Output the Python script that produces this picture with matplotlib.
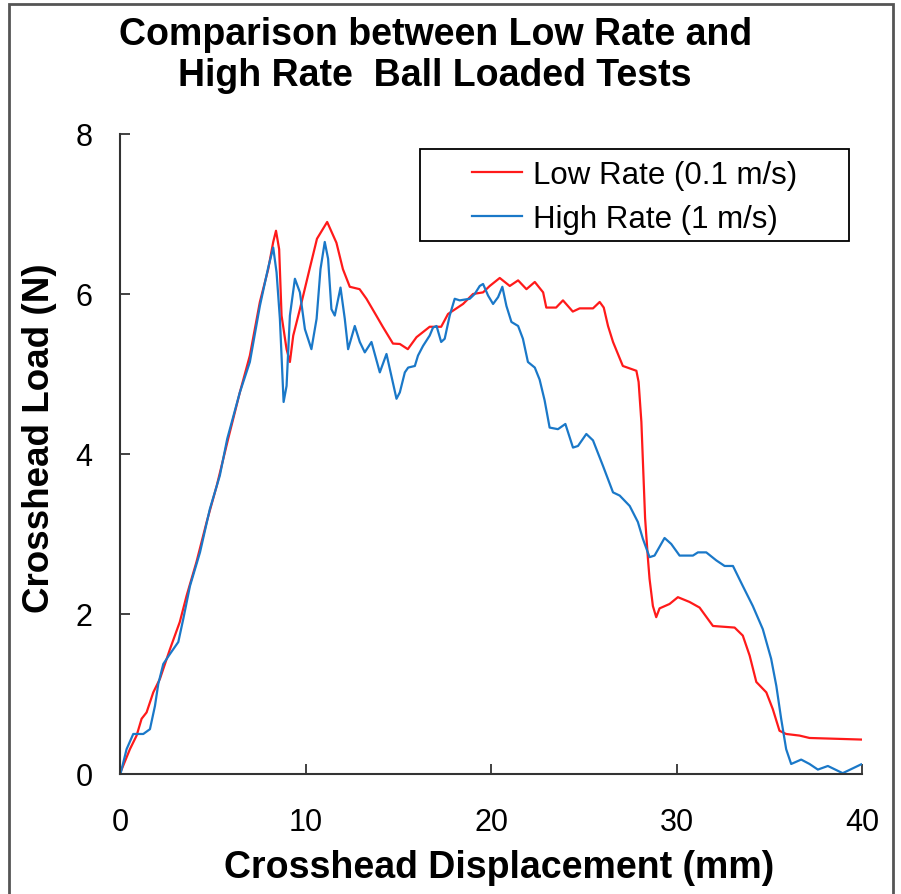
import matplotlib.pyplot as plt
from matplotlib.patches import Rectangle

plt.rcParams['font.family'] = ['Liberation Sans', 'DejaVu Sans']

# low rate (0.1 m/s)
x_low = [0, 0.51, 0.87, 1.14, 1.41, 1.77, 2.13, 2.67, 3.2, 3.57, 4.1, 4.65, 5.19, 5.81,
         6.44, 6.98, 7.52, 7.97, 8.24, 8.39, 8.56, 8.69, 8.96, 9.14, 9.32, 9.68, 10.2,
         10.6, 11.15, 11.65, 12.0, 12.37, 12.9, 13.27, 13.8, 14.15, 14.7, 15.07, 15.5,
         15.97, 16.68, 17.3, 17.67, 18.48, 19.02, 19.56, 19.92, 20.46, 21.0, 21.45, 21.9,
         22.35, 22.8, 22.97, 23.5, 23.87, 24.4, 24.77, 25.49, 25.85, 26.07, 26.3, 26.57,
         27.1, 27.83, 27.95, 28.1, 28.3, 28.45, 28.54, 28.72, 28.9, 29.08, 29.62, 30.07,
         30.7, 31.24, 31.96, 33.13, 33.57, 33.94, 34.3, 34.84, 35.19, 35.55, 35.91, 36.63,
         37.17, 38.6, 40.0]
y_low = [0.02, 0.31, 0.48, 0.69, 0.77, 1.02, 1.19, 1.56, 1.90, 2.23, 2.65, 3.15, 3.60, 4.19,
         4.77, 5.23, 5.9, 6.31, 6.65, 6.79, 6.56, 5.73, 5.31, 5.15, 5.48, 5.81, 6.31,
         6.69, 6.90, 6.64, 6.31, 6.09, 6.06, 5.94, 5.73, 5.59, 5.38, 5.375, 5.31,
         5.46, 5.59, 5.59, 5.75, 5.875, 6.0, 6.02, 6.10, 6.20, 6.10, 6.17, 6.06,
         6.15, 6.02, 5.83, 5.83, 5.92, 5.78, 5.82, 5.82, 5.90, 5.83, 5.60, 5.40,
         5.10, 5.04, 4.9, 4.4, 3.2, 2.7, 2.44, 2.10, 1.96, 2.07, 2.125, 2.21,
         2.15, 2.08, 1.85, 1.83, 1.73, 1.48, 1.15, 1.02, 0.81, 0.54, 0.50, 0.48,
         0.45, 0.44, 0.43]

# high rate (1 m/s)
x_high = [0, 0.33, 0.69, 1.23, 1.59, 1.86, 2.04, 2.31, 2.67, 3.12, 3.39, 3.75, 4.29, 4.82,
          5.36, 5.76, 6.44, 6.98, 7.52, 7.97, 8.24, 8.42, 8.6, 8.8, 8.96, 9.14, 9.41, 9.68,
          9.95, 10.3, 10.58, 10.79, 11.02, 11.2, 11.38, 11.56, 11.87, 12.1, 12.28, 12.64,
          12.91, 13.18, 13.54, 13.99, 14.35, 14.89, 15.07, 15.34, 15.52, 15.88, 16.05,
          16.32, 16.68, 16.86, 17.05, 17.3, 17.49, 17.76, 18.03, 18.3, 18.84, 19.11, 19.38,
          19.56, 19.83, 20.1, 20.37, 20.6, 20.82, 21.09, 21.45, 21.71, 21.98, 22.35, 22.61,
          22.88, 23.15, 23.6, 24.0, 24.41, 24.68, 25.13, 25.49, 26.03, 26.57, 26.93, 27.47,
          27.91, 28.18, 28.54, 28.81, 29.35, 29.71, 30.16, 30.88, 31.15, 31.6, 32.14, 32.59,
          33.04, 33.57, 34.11, 34.65, 35.1, 35.38, 35.64, 35.91, 36.18, 36.72, 37.17, 37.62,
          38.16, 38.96, 39.95]
y_high = [0.0, 0.31, 0.5, 0.5, 0.56, 0.85, 1.125, 1.375, 1.5, 1.65, 1.94, 2.35, 2.77, 3.31,
          3.73, 4.19, 4.77, 5.15, 5.85, 6.33, 6.58, 6.27, 5.69, 4.65, 4.85, 5.73, 6.19, 6.02,
          5.56, 5.31, 5.69, 6.31, 6.65, 6.44, 5.81, 5.73, 6.08, 5.69, 5.31, 5.60,
          5.40, 5.27, 5.40, 5.02, 5.25, 4.69, 4.77, 5.02, 5.08, 5.10, 5.23,
          5.35, 5.48, 5.58, 5.60, 5.40, 5.44, 5.73, 5.94, 5.92, 5.94, 6.0, 6.10,
          6.125, 5.98, 5.875, 5.96, 6.09, 5.85, 5.65, 5.60, 5.44, 5.15, 5.08, 4.93,
          4.67, 4.33, 4.31, 4.375, 4.08, 4.10, 4.25, 4.17, 3.85, 3.52, 3.48, 3.35,
          3.15, 2.94, 2.71, 2.73, 2.95, 2.875, 2.73, 2.73, 2.77, 2.77, 2.67, 2.60,
          2.60, 2.35, 2.10, 1.81, 1.44, 1.10, 0.69, 0.31, 0.125, 0.18, 0.125, 0.055,
          0.10, 0.01, 0.12]

xticks = [0, 10, 20, 30, 40]
yticks = [0, 2, 4, 6, 8]

fig = plt.figure(figsize=(9.01, 8.95), dpi=100)
ax = fig.add_axes([0.1337, 0.1341, 0.8230, 0.7151])

ax.plot(x_low, y_low, color='#ff1a1a', lw=1.6, label='Low Rate (0.1 m/s)')
ax.plot(x_high, y_high, color='#1a78c8', lw=1.6, label='High Rate (1 m/s)')

ax.set_xlim(0, 40)
ax.set_ylim(0, 8)
ax.set_xticks(xticks)
ax.set_yticks(yticks)
ax.spines['top'].set_visible(False)
ax.spines['right'].set_visible(False)
for s in ['left', 'bottom']:
    ax.spines[s].set_color('#333333')
    ax.spines[s].set_linewidth(1.5)
ax.tick_params(direction='in', length=7, width=1.3, color='#333333', labelsize=22)
ax.tick_params(axis='x', pad=24)
ax.tick_params(axis='y', pad=20)

ax.set_xlabel('Crosshead Displacement (mm)', fontsize=27, fontweight='bold')
ax.set_ylabel('Crosshead Load (N)', fontsize=26.5, fontweight='bold')
ax.xaxis.set_label_coords(0.51, -0.117)
ax.yaxis.set_label_coords(-0.0856, 0.527)

# legend box drawn separately: the original has wide left padding
ax.add_patch(Rectangle((0.404, 0.833), 0.578, 0.144, transform=ax.transAxes,
                       fill=False, edgecolor='black', linewidth=1.3, clip_on=False))
leg = ax.legend(loc='upper left', bbox_to_anchor=(0.474, 0.959), fontsize=22.5,
                frameon=False, handlelength=1.6, borderpad=0, borderaxespad=0,
                labelspacing=0.45, handletextpad=0.35)

fig.text(0.483, 0.938, 'Comparison between Low Rate and\nHigh Rate  Ball Loaded Tests',
         ha='center', va='center', fontsize=27, fontweight='bold', linespacing=1.2)

# outer chart border (bottom edge is cut off in the original)
fig.patches.append(Rectangle((9 / 901, -0.02), 884 / 901, 1.02 - 5 / 895, transform=fig.transFigure,
                             fill=False, edgecolor='#555555', linewidth=2))

fig.savefig('out.png', dpi=100)
